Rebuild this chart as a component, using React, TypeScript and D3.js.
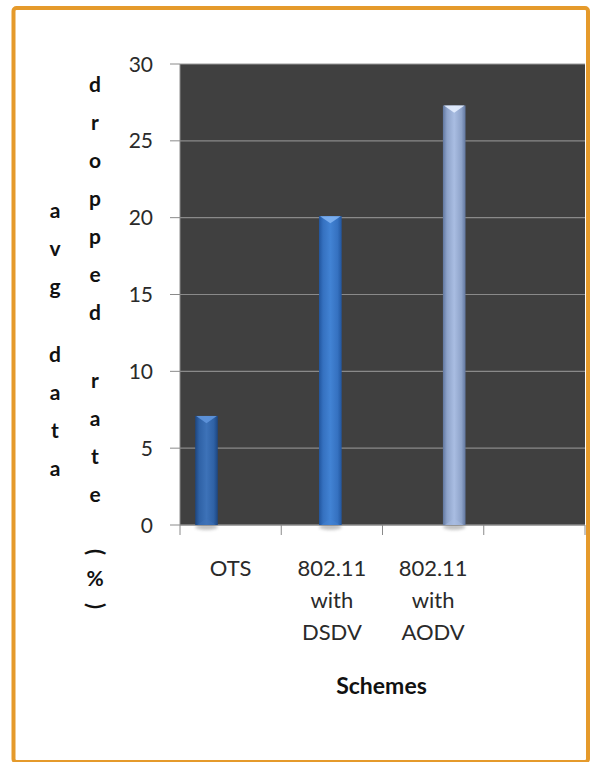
import React from "react";
import * as d3 from "d3";

// chart data
const categories = ["OTS", "802.11 with DSDV", "802.11 with AODV", ""];
const seriesNames = ["OTS", "802.11 with DSDV", "802.11 with AODV"];
const otsValues = [7.1, 0, 0, 0];
const dsdvValues = [0, 20.1, 0, 0];
const aodvValues = [0, 0, 27.3, 0];
const yTicks = [0, 5, 10, 15, 20, 25, 30];
const yTitleColumns = ["avg data", "dropped rate (%)"];
const xTitle = "Schemes";

const seriesValues = [otsValues, dsdvValues, aodvValues];

// colours per series: edge, centre, top cap
const seriesColors = [
  { edge: "#1d4680", mid: "#2f62a6", light: "#3d72b8", cap: "#5f95db" },
  { edge: "#22569f", mid: "#3571c0", light: "#4283d4", cap: "#80b3f2" },
  { edge: "#61779f", mid: "#8ea3c9", light: "#a9bde2", cap: "#e4eeff" },
];

const W = 593;
const H = 762;
const plot = { left: 180, right: 585, top: 64, bottom: 525 };
const font = "Lato, 'Open Sans', sans-serif";

export default function App() {
  const x = d3
    .scaleBand<string>()
    .domain(categories)
    .range([plot.left, plot.right])
    .padding(0);

  const bw = x.bandwidth();
  const inner = d3
    .scaleBand<number>()
    .domain(d3.range(seriesNames.length))
    .range([bw * 0.15, bw * 0.82])
    .padding(0);

  const y = d3.scaleLinear().domain([0, 30]).range([plot.bottom, plot.top]);

  // stacked letters of the y title
  const letterStep = 38;
  const spaceStep = 30;
  const parenStep = 16;
  const columnCenter = 340;
  const columnX = [55, 95];

  const stackColumn = (text: string) => {
    const chars = text.split("");
    const heights = chars.map((c) =>
      c === " " ? spaceStep : c === "(" || c === ")" ? parenStep : letterStep
    );
    const total = d3.sum(heights);
    let pos = columnCenter - total / 2;
    return chars.map((c, i) => {
      const cy = pos + heights[i] / 2;
      pos += heights[i];
      return { c, cy };
    });
  };

  return (
    <svg
      width={W}
      height={H}
      style={{ position: "absolute", left: 0, top: 0, background: "#fff" }}
      fontFamily={font}
    >
      <defs>
        {seriesColors.map((col, i) => (
          <linearGradient key={i} id={`bar${i}`} x1="0" x2="1" y1="0" y2="0">
            <stop offset="0" stopColor={col.edge} />
            <stop offset="0.18" stopColor={col.mid} />
            <stop offset="0.5" stopColor={col.light} />
            <stop offset="0.82" stopColor={col.mid} />
            <stop offset="1" stopColor={col.edge} />
          </linearGradient>
        ))}
        <filter id="blur" x="-50%" y="-50%" width="200%" height="200%">
          <feGaussianBlur stdDeviation="1.5" />
        </filter>
      </defs>

      {/* frame */}
      <rect
        x={13.5}
        y={8}
        width={574.5}
        height={754}
        rx={3}
        fill="#fff"
        stroke="#e59a2b"
        strokeWidth={4}
      />

      {/* plot background */}
      <rect
        x={plot.left}
        y={plot.top}
        width={plot.right - plot.left}
        height={plot.bottom - plot.top}
        fill="#404040"
      />

      {/* gridlines + y ticks */}
      {yTicks.map((t) => (
        <g key={t}>
          <line
            x1={plot.left}
            x2={plot.right}
            y1={y(t)}
            y2={y(t)}
            stroke={t === 30 ? "#9a9a9a" : "#8a8a8a"}
            strokeWidth={1.2}
          />
          <line x1={plot.left - 10} x2={plot.left} y1={y(t)} y2={y(t)} stroke="#8a8a8a" />
          <text
            x={plot.left - 27}
            y={y(t)}
            dy="0.36em"
            textAnchor="end"
            fontSize={21}
            fill="#2a2a2a"
          >
            {t}
          </text>
        </g>
      ))}

      {/* axes */}
      <line x1={plot.left} x2={plot.left} y1={plot.top} y2={plot.bottom + 10} stroke="#8a8a8a" />
      <line x1={plot.left} x2={plot.right} y1={plot.bottom} y2={plot.bottom} stroke="#8a8a8a" strokeWidth={1.2} />
      {categories.map((c, i) => (
        <line
          key={i}
          x1={(x(c) ?? 0) + bw}
          x2={(x(c) ?? 0) + bw}
          y1={plot.bottom}
          y2={plot.bottom + 10}
          stroke="#8a8a8a"
        />
      ))}

      {/* bars */}
      {seriesValues.map((vals, s) =>
        vals.map((v, ci) => {
          if (!v) return null;
          const bx = (x(categories[ci]) ?? 0) + (inner(s) ?? 0);
          const w = inner.bandwidth();
          const top = y(v);
          const h = y(0) - top;
          const col = seriesColors[s];
          return (
            <g key={`${s}-${ci}`}>
              <ellipse
                cx={bx + w / 2}
                cy={plot.bottom + 2}
                rx={w / 2}
                ry={3}
                fill="#777"
                opacity={0.45}
                filter="url(#blur)"
              />
              <rect x={bx} y={top} width={w} height={h} fill={`url(#bar${s})`} />
              <polygon
                points={`${bx + 1},${top} ${bx + w - 1},${top} ${bx + w / 2},${top + w * 0.32}`}
                fill={col.cap}
                opacity={0.9}
              />
              <polygon
                points={`${bx + 2},${plot.bottom} ${bx + w - 2},${plot.bottom} ${bx + w / 2},${plot.bottom - w * 0.3}`}
                fill={col.light}
                opacity={0.45}
              />
            </g>
          );
        })
      )}

      {/* x category labels */}
      {categories.map((c, i) => {
        const lines = c ? c.replace("802.11 ", "802.11\n").replace("with ", "with\n").split("\n") : [];
        const cx = (x(c) ?? 0) + bw / 2;
        return (
          <text key={i} textAnchor="middle" fontSize={22} fill="#2a2a2a">
            {lines.map((l, j) => (
              <tspan key={j} x={cx} y={576 + j * 32}>
                {l}
              </tspan>
            ))}
          </text>
        );
      })}

      {/* x title */}
      <text
        x={(plot.left + plot.right) / 2 - 1}
        y={694}
        textAnchor="middle"
        fontSize={23}
        fontWeight="bold"
        fill="#111"
      >
        {xTitle}
      </text>

      {/* y title, stacked letters */}
      {yTitleColumns.map((colText, ci) =>
        stackColumn(colText).map(({ c, cy }, k) => {
          if (c === " ") return null;
          const isParen = c === "(" || c === ")";
          return (
            <text
              key={`${ci}-${k}`}
              x={columnX[ci]}
              y={cy}
              dy={isParen ? "0.3em" : "0.35em"}
              textAnchor="middle"
              fontSize={isParen ? 22 : 21}
              fontWeight="bold"
              fill="#111"
              transform={isParen ? `rotate(90, ${columnX[ci]}, ${cy})` : undefined}
            >
              {c}
            </text>
          );
        })
      )}
    </svg>
  );
}
